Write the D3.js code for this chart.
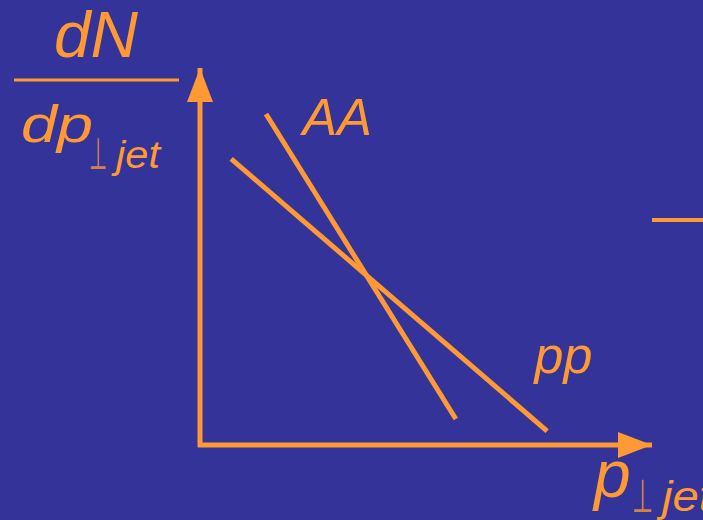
<!DOCTYPE html>
<html>
<head>
<meta charset="utf-8">
<script src="https://cdn.jsdelivr.net/npm/d3@7.9.0/dist/d3.min.js"></script>
<style>
  html, body { margin: 0; padding: 0; background: #333399; overflow: hidden; }
  svg { display: block; }
  text { font-family: "Liberation Sans", Arial, sans-serif; font-style: italic; fill: #ff9933; }
</style>
</head>
<body>
<svg id="chart"></svg>
<script>
// spectra sketch: dN/dp vs p, two straight lines (schematic, arbitrary units)
const seriesNames = ['AA', 'pp'];
const aaPoints = [[1.46, 8.78], [5.66, 0.69]];
const ppPoints = [[0.69, 7.59], [7.68, 0.37]];
const labelPos = { AA: [2.27, 8.22], pp: [7.4, 1.9] };
const sideMark = [[10.0, 5.97], [11.2, 5.97]];

const width = 703;
const height = 520;
const orange = '#ff9933';

const svg = d3.select('#chart').attr('width', width).attr('height', height);

svg.append('rect').attr('width', width).attr('height', height).attr('fill', '#333399');

const x = d3.scaleLinear().domain([0, 10]).range([200, 652]);
const y = d3.scaleLinear().domain([0, 10]).range([445, 68]);

// arrow heads
const defs = svg.append('defs');
defs.append('marker')
  .attr('id', 'arrow')
  .attr('viewBox', '0 0 34 26')
  .attr('refX', 34).attr('refY', 13)
  .attr('markerUnits', 'userSpaceOnUse')
  .attr('markerWidth', 34).attr('markerHeight', 26)
  .attr('orient', 'auto')
  .append('path')
  .attr('d', 'M0,0 L34,13 L0,26 Z')
  .attr('fill', orange);

// axes (no ticks, just arrows)
svg.append('line')
  .attr('x1', x(0) - 2).attr('y1', y(0))
  .attr('x2', x(10)).attr('y2', y(0))
  .attr('stroke', orange).attr('stroke-width', 5)
  .attr('marker-end', 'url(#arrow)');

svg.append('line')
  .attr('x1', x(0)).attr('y1', y(0) + 2)
  .attr('x2', x(0)).attr('y2', y(10))
  .attr('stroke', orange).attr('stroke-width', 5)
  .attr('marker-end', 'url(#arrow)');

const line = d3.line().x((d) => x(d[0])).y((d) => y(d[1]));

svg.append('g')
  .selectAll('path')
  .data([aaPoints, ppPoints])
  .join('path')
  .attr('d', line)
  .attr('fill', 'none')
  .attr('stroke', orange)
  .attr('stroke-width', 5);

svg.append('path')
  .attr('d', line(sideMark))
  .attr('stroke', orange)
  .attr('stroke-width', 4);

svg.append('g')
  .selectAll('text')
  .data(seriesNames)
  .join('text')
  .attr('x', (d) => x(labelPos[d][0]))
  .attr('y', (d) => y(labelPos[d][1]))
  .attr('font-size', 52)
  .text((d) => d);

// y label: dN / dp_perp jet
svg.append('text').attr('x', 54).attr('y', 57).attr('font-size', 64)
  .attr('textLength', 84).attr('lengthAdjust', 'spacingAndGlyphs').text('dN');
svg.append('line')
  .attr('x1', 14).attr('x2', 179).attr('y1', 80).attr('y2', 80)
  .attr('stroke', orange).attr('stroke-width', 3);
svg.append('text').attr('x', 21).attr('y', 142)
  .attr('font-size', 52).attr('textLength', 72).attr('lengthAdjust', 'spacingAndGlyphs')
  .text('dp');
svg.append('text').attr('x', 89).attr('y', 169).attr('font-size', 44)
  .attr('textLength', 18).attr('lengthAdjust', 'spacingAndGlyphs')
  .style('font-style', 'normal').attr('fill-opacity', 0.8).text('\u22a5');
svg.append('text').attr('x', 116).attr('y', 168).attr('font-size', 38)
  .attr('textLength', 44).attr('lengthAdjust', 'spacingAndGlyphs').text('jet');

// x label: p_perp jet (cut off at the right edge, as in the slide)
svg.append('text').attr('x', 594).attr('y', 497).attr('font-size', 66).text('p');
svg.append('text').attr('x', 632).attr('y', 512).attr('font-size', 46)
  .attr('textLength', 21).attr('lengthAdjust', 'spacingAndGlyphs')
  .style('font-style', 'normal').attr('fill-opacity', 0.8).text('\u22a5');
svg.append('text').attr('x', 662).attr('y', 511).attr('font-size', 42)
  .attr('textLength', 50).attr('lengthAdjust', 'spacingAndGlyphs').text('jet');
</script>
</body>
</html>
